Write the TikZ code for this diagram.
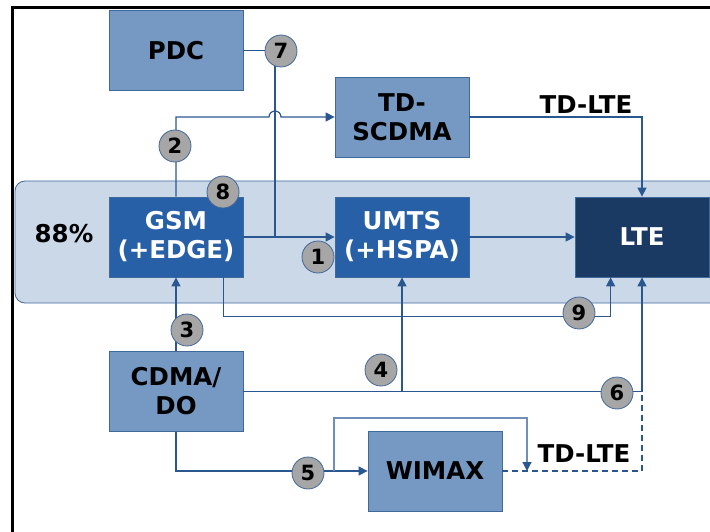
\documentclass[tikz,border=0pt]{standalone}
\usepackage{fontspec}
\setmainfont{DejaVu Sans}
\usetikzlibrary{positioning,arrows.meta}

\definecolor{boxlight}{HTML}{7599C3}
\definecolor{boxmid}{HTML}{2860A8}
\definecolor{boxdark}{HTML}{1A3963}
\definecolor{edgeblue}{HTML}{41689A}
\definecolor{linkblue}{HTML}{2B5790}
\definecolor{linklight}{HTML}{6F8FBA}
\definecolor{panelfill}{HTML}{CBD8E8}
\definecolor{numgray}{HTML}{A6A6A6}

\begin{document}
\begin{tikzpicture}[
x=1pt,y=-1pt,
box/.style={
  draw=edgeblue,
  line width=0.8pt,
  minimum width=134pt,
  minimum height=80pt,
  inner sep=0pt,
  align=center,
  font=\fontsize{24.5}{29}\selectfont\bfseries
  },
light/.style={box,fill=boxlight,text=black},
mid/.style={box,fill=boxmid,text=white},
dark/.style={box,fill=boxdark,text=white},
num/.style={draw=edgeblue,line width=0.8pt,fill=numgray,circle,
  minimum size=32pt,inner sep=0pt,font=\fontsize{21}{21}\selectfont\bfseries
  },
tag/.style={font=\fontsize{24.5}{24.5}\selectfont\bfseries,inner sep=0pt},
link/.style={draw=linkblue,line width=1.2pt},
>={Triangle[length=9pt,width=9pt]}]
\clip (0,0) rectangle (710,532);

% panel and frame
\draw[draw=edgeblue,fill=panelfill,line width=0.8pt,rounded corners=10pt] (15,181) rectangle (740,303);
\draw[line width=3pt] (730,8) -- (12,8) -- (12,540);

% systems
\node[light] (PDC)   at (176,50.5) {PDC};
\node[light] (TDS)   at (402,117)  {TD-\\SCDMA};
\node[mid]   (GSM)   at (176,237)  {GSM\\(+EDGE)};
\node[mid]   (UMTS)  at (402,237)  {UMTS\\(+HSPA)};
\node[dark]  (LTE)   at (642,237)  {LTE};
\node[light] (CDMA)  at (176,391.5){CDMA/\\DO};
\node[light] (WIMAX) at (435,471)  {WIMAX};

\node[tag] (pct)  at (64,234)  {88\%};
\node[tag] (tdA)  at (586,105) {TD-LTE};
\node[tag] (tdB)  at (584,454) {TD-LTE};

\coordinate (j7) at (275,237);
\coordinate (j6) at (CDMA.east -| LTE.south);
\coordinate (b5) at (334,471);
\coordinate (e5) at (527,471);

% links
\draw[link] (PDC.east) -| (j7);
\draw[link,->] (GSM.east) -- (UMTS.west);
\draw[link,->] (GSM.north) -- (176,117) -- (269,117)
  arc[start angle=180,end angle=0,radius=6pt] -- (TDS.west);
\draw[link,->] (TDS.east) -| (LTE.north);
\draw[link,->] (UMTS.east) -- (LTE.west);
\draw[link,->] ([xshift=-20pt]GSM.south east) -- ++(0,39) -| ([xshift=36pt]LTE.south west);
\draw[link,->] (CDMA.north) -- (GSM.south);
\draw[link,->] (CDMA.east) -| (LTE.south);
\draw[link,->] (CDMA.east -| UMTS.south) -- (UMTS.south);
\draw[link,->] (CDMA.south) |- (WIMAX.west);
\draw[link,draw=linklight,-{Triangle[length=9pt,width=9pt,color=linkblue]}] (b5) -- ++(0,-53) -| (e5);
\draw[link,dashed,dash pattern=on 6pt off 4pt] (WIMAX.east) -| (j6);

% steps
\node[num] (c1) at (318,257) {1};
\node[num] (c2) at (175,146) {2};
\node[num] (c3) at (187,330) {3};
\node[num] (c4) at (381,370) {4};
\node[num] (c5) at (308,473) {5};
\node[num] (c6) at (617,393) {6};
\node[num] (c7) at (281,51)  {7};
\node[num] (c8) at (223,192) {8};
\node[num] (c9) at (579,313) {9};

\end{tikzpicture}
\end{document}
